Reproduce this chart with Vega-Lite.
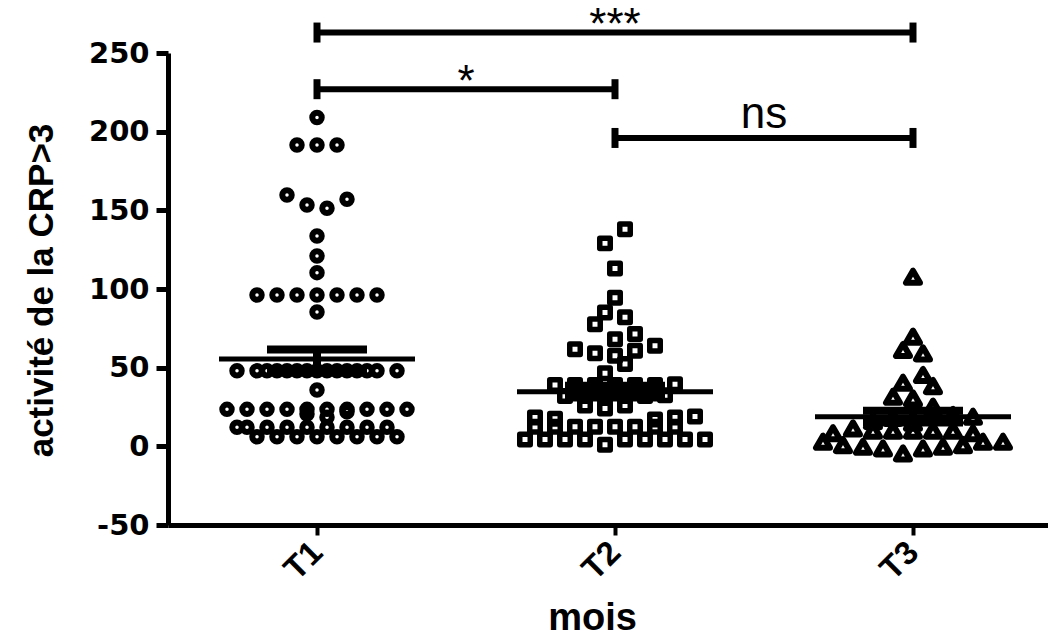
{
  "$schema": "https://vega.github.io/schema/vega-lite/v6.json",
  "width": 894,
  "height": 472,
  "autosize": {"type": "none"},
  "padding": {"left": 168, "top": 53, "right": 0, "bottom": 114},
  "background": "white",
  "config": {
    "view": {"stroke": null},
    "font": "Liberation Sans",
    "axis": {"domainColor": "black", "tickColor": "black", "labelColor": "black", "titleColor": "black", "grid": false}
  },
  "datasets": {
    "pts": [
      {"group": "T1", "value": 209, "slot": 0},
      {"group": "T1", "value": 191.5, "slot": -1}, {"group": "T1", "value": 191.5, "slot": 0}, {"group": "T1", "value": 191.5, "slot": 1},
      {"group": "T1", "value": 159.8, "slot": -1.5}, {"group": "T1", "value": 153.4, "slot": -0.5}, {"group": "T1", "value": 151.3, "slot": 0.5}, {"group": "T1", "value": 157, "slot": 1.5},
      {"group": "T1", "value": 133.7, "slot": 0}, {"group": "T1", "value": 121, "slot": 0}, {"group": "T1", "value": 110.4, "slot": 0},
      {"group": "T1", "value": 96.2, "slot": -3}, {"group": "T1", "value": 96.2, "slot": -2}, {"group": "T1", "value": 96.2, "slot": -1}, {"group": "T1", "value": 96.2, "slot": 0}, {"group": "T1", "value": 96.2, "slot": 1}, {"group": "T1", "value": 96.2, "slot": 2}, {"group": "T1", "value": 96.2, "slot": 3},
      {"group": "T1", "value": 85.4, "slot": 0},
      {"group": "T1", "value": 48, "slot": -4}, {"group": "T1", "value": 48, "slot": -3}, {"group": "T1", "value": 48, "slot": -2.5}, {"group": "T1", "value": 48, "slot": -2}, {"group": "T1", "value": 48, "slot": -1.5}, {"group": "T1", "value": 48, "slot": -1}, {"group": "T1", "value": 48, "slot": -0.5}, {"group": "T1", "value": 48, "slot": 0}, {"group": "T1", "value": 48, "slot": 0.5}, {"group": "T1", "value": 48, "slot": 1}, {"group": "T1", "value": 48, "slot": 1.5}, {"group": "T1", "value": 48, "slot": 2}, {"group": "T1", "value": 48, "slot": 2.5}, {"group": "T1", "value": 48, "slot": 3}, {"group": "T1", "value": 48, "slot": 4},
      {"group": "T1", "value": 35.8, "slot": 0},
      {"group": "T1", "value": 23.5, "slot": -4.5}, {"group": "T1", "value": 23.5, "slot": -3.5}, {"group": "T1", "value": 23.5, "slot": -2.5}, {"group": "T1", "value": 23.5, "slot": -1.5}, {"group": "T1", "value": 23.5, "slot": -0.5}, {"group": "T1", "value": 23.5, "slot": 0.5}, {"group": "T1", "value": 23.5, "slot": 1.5}, {"group": "T1", "value": 23.5, "slot": 2.5}, {"group": "T1", "value": 23.5, "slot": 3.5}, {"group": "T1", "value": 23.5, "slot": 4.5},
      {"group": "T1", "value": 20.5, "slot": -0.5}, {"group": "T1", "value": 18.5, "slot": 0.5}, {"group": "T1", "value": 22, "slot": 1.5},
      {"group": "T1", "value": 12.1, "slot": -4}, {"group": "T1", "value": 12.1, "slot": -3.5}, {"group": "T1", "value": 12.1, "slot": -2.5}, {"group": "T1", "value": 12.1, "slot": -1.5}, {"group": "T1", "value": 12.1, "slot": -0.5}, {"group": "T1", "value": 12.1, "slot": 0.5}, {"group": "T1", "value": 12.1, "slot": 1.5}, {"group": "T1", "value": 12.1, "slot": 2.5}, {"group": "T1", "value": 12.1, "slot": 3.5},
      {"group": "T1", "value": 6.1, "slot": -3}, {"group": "T1", "value": 6.1, "slot": -2}, {"group": "T1", "value": 6.1, "slot": -1}, {"group": "T1", "value": 6.1, "slot": 0}, {"group": "T1", "value": 6.1, "slot": 1}, {"group": "T1", "value": 6.1, "slot": 2}, {"group": "T1", "value": 6.1, "slot": 3}, {"group": "T1", "value": 6.1, "slot": 4},

      {"group": "T2", "value": 138, "slot": 0.5}, {"group": "T2", "value": 129, "slot": -0.5}, {"group": "T2", "value": 113, "slot": 0}, {"group": "T2", "value": 94.5, "slot": 0},
      {"group": "T2", "value": 85, "slot": -0.5}, {"group": "T2", "value": 82, "slot": 0.5}, {"group": "T2", "value": 77.6, "slot": -1}, {"group": "T2", "value": 71.4, "slot": 1},
      {"group": "T2", "value": 68, "slot": 0}, {"group": "T2", "value": 64, "slot": 2}, {"group": "T2", "value": 61.7, "slot": -2}, {"group": "T2", "value": 60.8, "slot": 1},
      {"group": "T2", "value": 59.1, "slot": -1}, {"group": "T2", "value": 57.6, "slot": 0}, {"group": "T2", "value": 52.3, "slot": 0.5}, {"group": "T2", "value": 46.4, "slot": -0.5},
      {"group": "T2", "value": 39, "slot": -3}, {"group": "T2", "value": 39, "slot": -2}, {"group": "T2", "value": 39, "slot": -1}, {"group": "T2", "value": 39, "slot": 0}, {"group": "T2", "value": 39, "slot": 1}, {"group": "T2", "value": 39, "slot": 2}, {"group": "T2", "value": 39.5, "slot": 3},
      {"group": "T2", "value": 32, "slot": -2.5}, {"group": "T2", "value": 32, "slot": -1.5}, {"group": "T2", "value": 32, "slot": -0.5}, {"group": "T2", "value": 32, "slot": 0.5}, {"group": "T2", "value": 32, "slot": 1.5}, {"group": "T2", "value": 32.5, "slot": 2.5},
      {"group": "T2", "value": 26, "slot": -1.5}, {"group": "T2", "value": 24, "slot": -0.5}, {"group": "T2", "value": 26, "slot": 0.5},
      {"group": "T2", "value": 18.4, "slot": -4}, {"group": "T2", "value": 17.5, "slot": -3}, {"group": "T2", "value": 17, "slot": 2}, {"group": "T2", "value": 18.4, "slot": 3}, {"group": "T2", "value": 19, "slot": 4},
      {"group": "T2", "value": 12.5, "slot": -4}, {"group": "T2", "value": 12.5, "slot": -3}, {"group": "T2", "value": 12.5, "slot": -2}, {"group": "T2", "value": 12.5, "slot": -1}, {"group": "T2", "value": 12.5, "slot": 0}, {"group": "T2", "value": 12.5, "slot": 1}, {"group": "T2", "value": 12.5, "slot": 2}, {"group": "T2", "value": 12.5, "slot": 3},
      {"group": "T2", "value": 4.4, "slot": -4.5}, {"group": "T2", "value": 4.4, "slot": -3.5}, {"group": "T2", "value": 4.4, "slot": -2.5}, {"group": "T2", "value": 4.4, "slot": -1.5}, {"group": "T2", "value": 1, "slot": -0.5}, {"group": "T2", "value": 4.4, "slot": 0.5}, {"group": "T2", "value": 4.4, "slot": 1.5}, {"group": "T2", "value": 4.4, "slot": 2.5}, {"group": "T2", "value": 4.4, "slot": 3.5}, {"group": "T2", "value": 4.4, "slot": 4.5},

      {"group": "T3", "value": 107.8, "slot": 0}, {"group": "T3", "value": 69.7, "slot": 0}, {"group": "T3", "value": 61.2, "slot": -0.5}, {"group": "T3", "value": 59.1, "slot": 0.5},
      {"group": "T3", "value": 45.3, "slot": 0.5}, {"group": "T3", "value": 40.4, "slot": -0.5}, {"group": "T3", "value": 38.3, "slot": 1}, {"group": "T3", "value": 31.5, "slot": -1}, {"group": "T3", "value": 30.5, "slot": 0},
      {"group": "T3", "value": 25.2, "slot": 1}, {"group": "T3", "value": 16, "slot": -2}, {"group": "T3", "value": 18, "slot": -1}, {"group": "T3", "value": 15, "slot": 0}, {"group": "T3", "value": 20, "slot": 2},
      {"group": "T3", "value": 18.8, "slot": 3},
      {"group": "T3", "value": 11.4, "slot": -3}, {"group": "T3", "value": 10, "slot": -2}, {"group": "T3", "value": 10, "slot": -1}, {"group": "T3", "value": 10, "slot": 0}, {"group": "T3", "value": 10, "slot": 1}, {"group": "T3", "value": 10, "slot": 2},
      {"group": "T3", "value": 8.3, "slot": -4}, {"group": "T3", "value": 8.3, "slot": 3},
      {"group": "T3", "value": 2.9, "slot": -4.5}, {"group": "T3", "value": 0.8, "slot": -3.5}, {"group": "T3", "value": -0.3, "slot": -2.5}, {"group": "T3", "value": -1.3, "slot": -1.5}, {"group": "T3", "value": -4.5, "slot": -0.5},
      {"group": "T3", "value": -1.3, "slot": 0.5}, {"group": "T3", "value": -0.3, "slot": 1.5}, {"group": "T3", "value": 0.8, "slot": 2.5}, {"group": "T3", "value": 2.9, "slot": 3.5}, {"group": "T3", "value": 2.9, "slot": 4.5}
    ],
    "stats": [
      {"group": "T1", "mean": 55.5, "lo": 49, "hi": 61.5},
      {"group": "T2", "mean": 34.7, "lo": 31, "hi": 38.5},
      {"group": "T3", "mean": 18.8, "lo": 15.2, "hi": 22.6}
    ],
    "sig": [
      {"from": "T1", "to": "T3", "mid": "T2", "y": 263, "label": "***"},
      {"from": "T1", "to": "T2", "mid": "T1", "y": 227, "label": "*"},
      {"from": "T2", "to": "T3", "mid": "T2", "y": 196, "label": "ns"}
    ]
  },
  "encoding": {
    "x": {
      "field": "group", "type": "nominal",
      "scale": {"type": "point", "padding": 0.5, "domain": ["T1", "T2", "T3"]},
      "title": "mois",
      "axis": {
        "domainWidth": 5, "tickSize": 10, "tickWidth": 4,
        "labelAngle": -45, "labelAlign": "right", "labelBaseline": "middle",
        "labelFont": "Liberation Sans", "labelFontWeight": "bold", "labelFontSize": 33, "labelPadding": 12,
        "titleFont": "Liberation Sans", "titleFontWeight": "bold", "titleFontSize": 38,
        "titleX": 424, "titleY": 104, "titleBaseline": "alphabetic", "titleAlign": "center"
      }
    },
    "y": {
      "field": "value", "type": "quantitative",
      "scale": {"domain": [-50, 250], "nice": false, "zero": false},
      "title": "activité de la CRP>3",
      "axis": {
        "values": [-50, 0, 50, 100, 150, 200, 250],
        "labelExpr": "replace(datum.label, '−', '-')",
        "domainWidth": 5, "tickSize": 12, "tickWidth": 5,
        "labelFont": "DejaVu Sans", "labelFontWeight": "bold", "labelFontSize": 29, "labelPadding": 7,
        "titleFont": "Liberation Sans", "titleFontWeight": "bold", "titleFontSize": 35,
        "titleAngle": -90, "titleX": -127, "titleY": 237, "titleAlign": "center", "titleBaseline": "middle"
      }
    }
  },
  "layer": [
    {
      "data": {"name": "pts"},
      "transform": [{"filter": "datum.group === 'T1'"}],
      "mark": {"type": "point", "shape": "circle", "filled": false, "stroke": "black", "strokeWidth": 6, "size": 90, "opacity": 1},
      "encoding": {"xOffset": {"field": "slot", "type": "quantitative", "scale": {"domain": [-5, 5], "range": [-100, 100]}}}
    },
    {
      "data": {"name": "pts"},
      "transform": [{"filter": "datum.group === 'T2'"}],
      "mark": {"type": "point", "shape": "square", "filled": false, "stroke": "black", "strokeWidth": 5.5, "strokeJoin": "round", "size": 110, "opacity": 1},
      "encoding": {"xOffset": {"field": "slot", "type": "quantitative", "scale": {"domain": [-5, 5], "range": [-100, 100]}}}
    },
    {
      "data": {"name": "pts"},
      "transform": [{"filter": "datum.group === 'T3'"}],
      "mark": {"type": "point", "shape": "triangle-up", "filled": false, "stroke": "black", "strokeWidth": 6, "strokeJoin": "round", "size": 196, "opacity": 1},
      "encoding": {"xOffset": {"field": "slot", "type": "quantitative", "scale": {"domain": [-5, 5], "range": [-100, 100]}}}
    },
    {
      "data": {"name": "stats"},
      "mark": {"type": "tick", "color": "black", "size": 196, "thickness": 5, "opacity": 1},
      "encoding": {"y": {"field": "mean", "type": "quantitative", "title": "activité de la CRP>3"}}
    },
    {
      "data": {"name": "stats"},
      "mark": {"type": "rule", "color": "black", "strokeWidth": 8},
      "encoding": {"y": {"field": "lo", "type": "quantitative", "title": "activité de la CRP>3"}, "y2": {"field": "hi"}}
    },
    {
      "data": {"name": "stats"},
      "mark": {"type": "tick", "color": "black", "size": 100, "thickness": 8, "opacity": 1},
      "encoding": {"y": {"field": "hi", "type": "quantitative", "title": "activité de la CRP>3"}}
    },
    {
      "data": {"name": "stats"},
      "mark": {"type": "tick", "color": "black", "size": 100, "thickness": 8, "opacity": 1},
      "encoding": {"y": {"field": "lo", "type": "quantitative", "title": "activité de la CRP>3"}}
    },
    {
      "data": {"name": "sig"},
      "mark": {"type": "rule", "color": "black", "strokeWidth": 6, "clip": false},
      "encoding": {
        "x": {"field": "from", "type": "nominal", "title": "mois"},
        "x2": {"field": "to"},
        "y": {"field": "y", "type": "quantitative", "title": "activité de la CRP>3"}
      }
    },
    {
      "data": {"name": "sig"},
      "mark": {"type": "tick", "orient": "vertical", "color": "black", "size": 20, "thickness": 7, "opacity": 1, "clip": false},
      "encoding": {
        "x": {"field": "from", "type": "nominal", "title": "mois"},
        "y": {"field": "y", "type": "quantitative", "title": "activité de la CRP>3"}
      }
    },
    {
      "data": {"name": "sig"},
      "mark": {"type": "tick", "orient": "vertical", "color": "black", "size": 20, "thickness": 7, "opacity": 1, "clip": false},
      "encoding": {
        "x": {"field": "to", "type": "nominal", "title": "mois"},
        "y": {"field": "y", "type": "quantitative", "title": "activité de la CRP>3"}
      }
    },
    {
      "data": {"name": "sig"},
      "transform": [{"filter": "datum.label === '***'"}],
      "mark": {"type": "text", "font": "Liberation Sans", "fontSize": 44, "baseline": "alphabetic", "align": "center", "dy": 6, "color": "black", "clip": false},
      "encoding": {
        "x": {"field": "mid", "type": "nominal", "title": "mois"},
        "y": {"field": "y", "type": "quantitative", "title": "activité de la CRP>3"},
        "text": {"field": "label"}
      }
    },
    {
      "data": {"name": "sig"},
      "transform": [{"filter": "datum.label === '*'"}],
      "mark": {"type": "text", "font": "Liberation Sans", "fontSize": 44, "baseline": "alphabetic", "align": "center", "dx": 149, "dy": 7, "color": "black", "clip": false},
      "encoding": {
        "x": {"field": "from", "type": "nominal", "title": "mois"},
        "y": {"field": "y", "type": "quantitative", "title": "activité de la CRP>3"},
        "text": {"field": "label"}
      }
    },
    {
      "data": {"name": "sig"},
      "transform": [{"filter": "datum.label === 'ns'"}],
      "mark": {"type": "text", "font": "Liberation Sans", "fontSize": 44, "baseline": "alphabetic", "align": "center", "dx": 149, "dy": -10, "color": "black", "clip": false},
      "encoding": {
        "x": {"field": "from", "type": "nominal", "title": "mois"},
        "y": {"field": "y", "type": "quantitative", "title": "activité de la CRP>3"},
        "text": {"field": "label"}
      }
    }
  ]
}
